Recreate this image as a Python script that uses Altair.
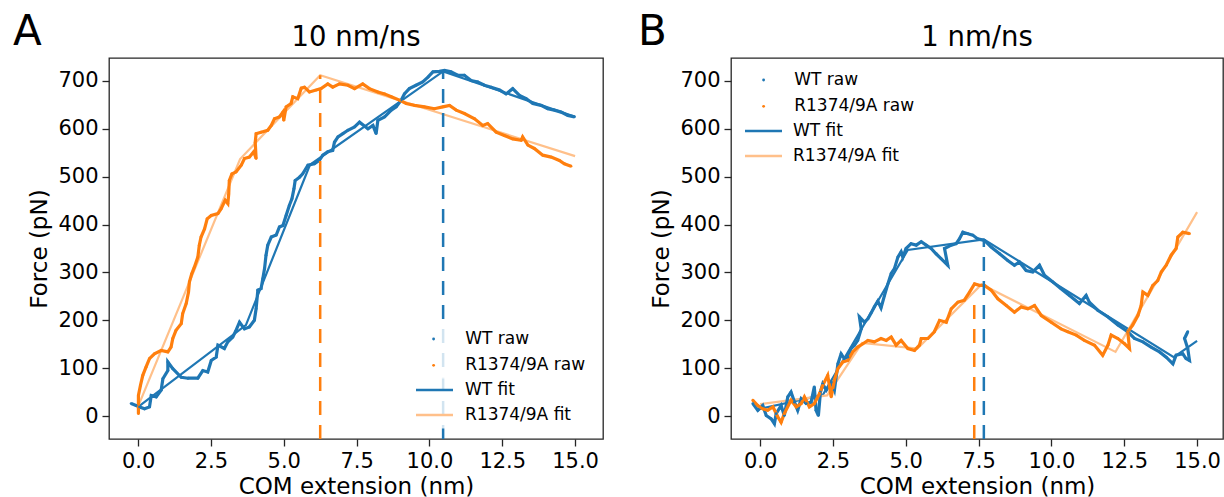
import altair as alt
import pandas as pd

# ---------------- Panel A : 10 nm/ns ----------------
A_WT_X = [-0.24, -0.07, 0.05, 0.22, 0.39, 0.45, 0.62, 0.79, 0.85, 1.02,
          1.02, 1.19, 1.48, 1.71, 2.05, 2.22, 2.39, 2.51, 2.68, 2.74,
          2.96, 3.08, 3.25, 3.36, 3.48, 3.65, 3.82, 3.99, 4.05, 4.11,
          4.22, 4.28, 4.34, 4.39, 4.45, 4.57, 4.74, 4.85, 4.97, 5.08,
          5.19, 5.28, 5.35, 5.39, 5.54, 5.65, 5.83, 6.05, 6.22, 6.34,
          6.51, 6.68, 6.74, 6.86, 7.03, 7.2, 7.43, 7.6, 7.89, 8.06,
          8.17, 8.23, 8.46, 8.69, 8.86, 9.03, 9.14, 9.31, 9.54, 9.77,
          9.95, 10.12, 10.34, 10.52, 10.74, 10.97, 11.2, 11.43, 11.66, 11.89,
          12.12, 12.41, 12.63, 12.86, 13.09, 13.32, 13.55, 13.83, 14.06, 14.29,
          14.52, 14.75, 14.98]
A_WT_F = [26, 22, 19, 15, 19, 43, 40, 54, 78, 95,
          113, 99, 81, 79, 79, 95, 92, 116, 123, 148,
          141, 155, 165, 179, 196, 182, 186, 200, 224, 263,
          266, 287, 308, 336, 357, 374, 378, 395, 398, 419,
          440, 454, 475, 492, 499, 506, 524, 527, 534, 545,
          552, 555, 572, 583, 590, 597, 604, 614, 600, 607,
          590, 618, 625, 639, 646, 660, 673, 684, 691, 698,
          708, 719, 720, 722, 719, 712, 712, 701, 698, 691,
          687, 681, 673, 684, 670, 663, 653, 649, 642, 639,
          635, 628, 625]
A_R_X = [0.01, 0.01, 0.08, 0.16, 0.27, 0.39, 0.56, 0.79, 1.02, 1.13,
         1.19, 1.3, 1.48, 1.53, 1.65, 1.73, 1.76, 1.84, 1.93, 2.05,
         2.1, 2.16, 2.28, 2.37, 2.51, 2.74, 2.85, 2.99, 3.08, 3.11,
         3.13, 3.22, 3.36, 3.54, 3.65, 3.82, 3.97, 4.05, 4.02, 4.05,
         4.22, 4.45, 4.57, 4.68, 4.85, 4.97, 5.0, 5.08, 5.25, 5.31,
         5.48, 5.6, 5.71, 5.88, 6.11, 6.28, 6.51, 6.68, 6.91, 7.2,
         7.43, 7.71, 7.94, 8.23, 8.46, 8.69, 8.97, 9.2, 9.49, 9.83,
         10.17, 10.46, 10.69, 10.92, 11.2, 11.55, 11.83, 12.0, 12.29, 12.57,
         12.86, 13.15, 13.2, 13.38, 13.6, 13.89, 14.18, 14.46, 14.63, 14.86]
A_R_F = [5, 43, 64, 85, 102, 120, 130, 137, 134, 144,
         162, 179, 193, 214, 235, 259, 280, 297, 311, 332,
         357, 374, 391, 412, 419, 423, 433, 451, 444, 464,
         492, 506, 510, 524, 538, 541, 552, 538, 572, 590,
         593, 597, 607, 621, 625, 635, 618, 646, 653, 667,
         663, 685, 687, 677, 681, 684, 694, 687, 694, 691,
         684, 694, 684, 677, 673, 667, 660, 653, 649, 646,
         642, 646, 649, 639, 632, 621, 607, 611, 593, 586,
         579, 576, 583, 566, 559, 545, 541, 534, 527, 522]
A_WT_FIT_X = [0.0, 3.7, 5.9, 10.47, 15.0]
A_WT_FIT_F = [19, 190, 525, 720, 625]
A_R_FIT_X = [0.0, 3.5, 6.25, 15.0]
A_R_FIT_F = [20, 537, 712, 543]
A_PEAK_X = [10.47, 6.25]
A_PEAK_F = [720, 712]

# ---------------- Panel B : 1 nm/ns ----------------
B_WT_X = [-0.25, -0.08, 0.09, 0.21, 0.38, 0.49, 0.55, 0.72, 0.83, 0.95,
          1.06, 1.18, 1.29, 1.41, 1.58, 1.75, 1.86, 1.92, 2.0, 2.07,
          2.15, 2.27, 2.44, 2.55, 2.67, 2.78, 2.89, 3.01, 3.12, 3.24,
          3.35, 3.47, 3.41, 3.58, 3.7, 3.81, 3.92, 4.04, 4.15, 4.27,
          4.38, 4.5, 4.61, 4.73, 4.84, 4.9, 5.01, 5.18, 5.36, 5.53,
          5.7, 5.87, 6.04, 6.21, 6.44, 6.33, 6.56, 6.73, 6.84, 6.96,
          7.13, 7.3, 7.47, 7.7, 7.93, 8.22, 8.5, 8.73, 8.9, 9.13,
          9.36, 9.59, 9.76, 10.05, 10.33, 10.62, 10.96, 11.19, 11.3, 11.59,
          11.94, 12.28, 12.62, 12.85, 13.14, 13.42, 13.71, 13.94, 14.17, 14.28,
          14.51, 14.62, 14.74, 14.68, 14.57, 14.68]
B_WT_F = [26, 12, 22, 1, -6, -16, 5, 22, 1, 40,
          50, 29, 12, 36, 26, 29, 61, 12, 1, 50,
          67, 54, 71, 54, 109, 130, 120, 123, 141, 148,
          158, 182, 207, 196, 203, 215, 228, 240, 226, 252,
          275, 298, 308, 332, 343, 332, 350, 360, 357, 364,
          357, 350, 339, 329, 315, 350, 357, 360, 370, 384,
          381, 378, 370, 367, 353, 339, 325, 315, 322, 304,
          301, 315, 294, 280, 266, 252, 235, 252, 238, 221,
          207, 190, 176, 162, 155, 144, 134, 123, 109, 127,
          130, 120, 116, 141, 162, 176]
B_R_X = [-0.25, -0.08, 0.09, 0.26, 0.44, 0.61, 0.72, 0.83, 1.06, 1.24,
         1.41, 1.52, 1.69, 1.86, 2.04, 2.15, 2.32, 2.44, 2.55, 2.67,
         2.84, 3.01, 3.18, 3.35, 3.53, 3.7, 3.92, 4.15, 4.33, 4.5,
         4.67, 4.84, 5.07, 5.3, 5.47, 5.53, 5.76, 5.98, 6.16, 6.39,
         6.56, 6.79, 7.01, 7.19, 7.36, 7.53, 7.7, 7.93, 8.16, 8.45,
         8.73, 8.96, 9.19, 9.42, 9.65, 9.99, 10.33, 10.56, 10.85, 11.13,
         11.48, 11.76, 11.94, 12.05, 12.28, 12.51, 12.68, 12.62, 12.79, 12.97,
         13.08, 13.14, 13.31, 13.48, 13.65, 13.77, 13.94, 14.11, 14.28, 14.34,
         14.51, 14.74]
B_R_F = [33, 22, 15, 12, 19, -2, -13, 5, 33, 19,
         26, 40, 19, 26, 47, 64, 85, 40, 75, 99,
         113, 116, 134, 144, 151, 158, 155, 162, 158, 165,
         148, 158, 141, 137, 148, 162, 162, 176, 200, 196,
         224, 238, 242, 259, 276, 273, 273, 263, 245, 231,
         217, 228, 224, 231, 210, 196, 182, 176, 169, 158,
         148, 127, 148, 169, 162, 151, 141, 176, 190, 210,
         231, 259, 252, 273, 283, 301, 315, 336, 350, 374,
         384, 381]
B_WT_FIT_X = [0.0, 2.15, 5.07, 7.68, 14.2, 15.0]
B_WT_FIT_F = [15, 44, 347, 369, 123, 157]
B_R_FIT_X = [0.0, 2.3, 3.5, 5.4, 7.6, 12.2, 15.0]
B_R_FIT_F = [25, 43, 153, 141, 275, 134, 426]
B_PEAK_X = [7.68, 7.35]
B_PEAK_F = [369, 236]

SERIES = ["WT", "R1374/9A"]
RAW_LABELS = ["WT raw", "R1374/9A raw"]
FIT_LABELS = ["WT fit", "R1374/9A fit"]
COLORS = ["#1f77b4", "#ff7f0e"]
FIT_COLORS = ["#1f77b4", "#ffc08a"]
X_TICKS = [0, 2.5, 5, 7.5, 10, 12.5, 15]
Y_TICKS = [0, 100, 200, 300, 400, 500, 600, 700]
Y_DOMAIN = [-48, 748]
PX_PER_NM = 29.13
PLOT_H = 381
FONT = "DejaVu Sans"
LINE_SYMBOL = "M-3.7,0H3.7"


def raw_frame(wx, wf, rx, rf):
    rows = []
    for s, lab, xs, fs in [(SERIES[0], RAW_LABELS[0], wx, wf), (SERIES[1], RAW_LABELS[1], rx, rf)]:
        for i, (a, b) in enumerate(zip(xs, fs)):
            rows.append({"x": a, "F": b, "series": s, "raw": lab, "i": i})
    return pd.DataFrame(rows)


def fit_frame(wx, wf, rx, rf):
    rows = []
    for lab, xs, fs in [(FIT_LABELS[0], wx, wf), (FIT_LABELS[1], rx, rf)]:
        for i, (a, b) in enumerate(zip(xs, fs)):
            rows.append({"x": a, "F": b, "fit": lab, "i": i})
    return pd.DataFrame(rows)


def panel(title, letter, raw_df, fit_df, peak_x, peak_f, width, leg):
    xmax = -1.0 + width / PX_PER_NM
    xs = alt.Scale(domain=[-1.0, xmax], nice=False, zero=False)
    ys = alt.Scale(domain=Y_DOMAIN, nice=False, zero=False)
    xax = alt.Axis(values=X_TICKS, format=".1f", title="COM extension (nm)",
                   labelOverlap=False, labelFlush=False, titlePadding=4)
    yax = alt.Axis(values=Y_TICKS, format="d", title="Force (pN)",
                   labelOverlap=False, labelFlush=False, titlePadding=6)
    base = alt.Chart(raw_df)

    fit = alt.Chart(fit_df).mark_line(strokeWidth=2.2, clip=True).encode(
        x=alt.X("x:Q", scale=xs, axis=xax),
        y=alt.Y("F:Q", scale=ys, axis=yax),
        order=alt.Order("i:Q"),
        stroke=alt.Stroke("fit:N", scale=alt.Scale(domain=FIT_LABELS, range=FIT_COLORS),
                          legend=alt.Legend(title=None, orient="none", legendX=leg["fx"], legendY=leg["fy"],
                                            direction="vertical", symbolType=LINE_SYMBOL, symbolSize=100,
                                            symbolStrokeWidth=2.5, labelFontSize=17, labelFont=FONT,
                                            labelColor="black", labelOffset=leg["fo"], rowPadding=7,
                                            padding=5, fillColor="rgba(255,255,255,0.8)")),
    )
    raw_line = base.mark_line(strokeWidth=3.2, clip=True).encode(
        x=alt.X("x:Q", scale=xs), y=alt.Y("F:Q", scale=ys),
        order=alt.Order("i:Q"),
        color=alt.Color("series:N", scale=alt.Scale(domain=SERIES, range=COLORS), legend=None),
    )
    raw_pts = base.mark_point(filled=True, size=8, opacity=1, clip=True).encode(
        x=alt.X("x:Q", scale=xs), y=alt.Y("F:Q", scale=ys),
        fill=alt.Fill("raw:N", scale=alt.Scale(domain=RAW_LABELS, range=COLORS),
                      legend=alt.Legend(title=None, orient="none", legendX=leg["rx"], legendY=leg["ry"],
                                        direction="vertical", symbolType="circle", symbolSize=8,
                                        symbolStrokeWidth=0, labelFontSize=17, labelFont=FONT,
                                        labelColor="black", labelOffset=leg["ro"], rowPadding=8.3,
                                        padding=5, fillColor="rgba(255,255,255,0.8)")),
    )
    peaks = pd.DataFrame({"x": peak_x, "top": peak_f, "series": SERIES,
                          "bot": [Y_DOMAIN[0]] * len(peak_x)})
    rules = alt.Chart(peaks).mark_rule(strokeDash=[14, 10], strokeWidth=2.5).encode(
        x=alt.X("x:Q", scale=xs),
        y=alt.Y("bot:Q", scale=ys),
        y2=alt.Y2("top:Q"),
        color=alt.Color("series:N", scale=alt.Scale(domain=SERIES, range=COLORS), legend=None),
    )
    lab = alt.Chart(pd.DataFrame({"t": [letter]})).mark_text(
        align="left", baseline="alphabetic", fontSize=42, font=FONT, color="black"
    ).encode(x=alt.value(leg["lx"]), y=alt.value(-13), text="t:N")
    ttl = alt.Chart(pd.DataFrame({"t": [title]})).mark_text(
        align="center", baseline="alphabetic", fontSize=27.5, font=FONT, color="black"
    ).encode(x=alt.value(width / 2), y=alt.value(-12), text="t:N")

    return alt.layer(fit, raw_line, raw_pts, rules, lab, ttl).properties(
        width=width, height=PLOT_H,
    )


legA = {"rx": 311.1, "ry": 267.5, "ro": 23.1, "fx": 312, "fy": 318.5, "fo": 22, "lx": -96}
legB = {"rx": 19.1, "ry": 8.5, "ro": 22.1, "fx": 19, "fy": 59.5, "fo": 21, "lx": -93}

pA = panel("10 nm/ns", "A", raw_frame(A_WT_X, A_WT_F, A_R_X, A_R_F),
           fit_frame(A_WT_FIT_X, A_WT_FIT_F, A_R_FIT_X, A_R_FIT_F), A_PEAK_X, A_PEAK_F, 494, legA)
pB = panel("1 nm/ns", "B", raw_frame(B_WT_X, B_WT_F, B_R_X, B_R_F),
           fit_frame(B_WT_FIT_X, B_WT_FIT_F, B_R_FIT_X, B_R_FIT_F), B_PEAK_X, B_PEAK_F, 492, legB)

chart = alt.hconcat(pA, pB, spacing=128, bounds="flush").resolve_scale(
    x="independent", y="independent", color="independent", fill="independent", stroke="independent"
).resolve_legend(color="independent", fill="independent", stroke="independent").properties(
    padding={"left": 12, "top": 10, "right": 0, "bottom": 0}
).configure(font=FONT).configure_view(stroke="#262626", strokeWidth=1.3).configure_axis(
    labelFont=FONT, titleFont=FONT, labelFontSize=21, titleFontSize=23, titleFontWeight="normal",
    labelColor="black", titleColor="black", tickColor="#262626", tickSize=7, tickWidth=1.3,
    domain=False, grid=False, labelPadding=4,
)

chart.save("out.html", embed_options={"renderer": "svg", "actions": False})
